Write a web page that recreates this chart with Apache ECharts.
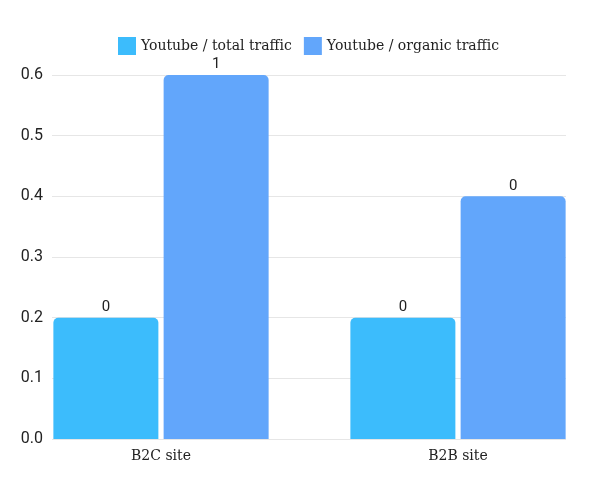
<!DOCTYPE html>
<html>
<head>
<meta charset="utf-8">
<script src="https://cdn.jsdelivr.net/npm/echarts@6/dist/echarts.min.js"></script>
<style>html,body{margin:0;padding:0;background:#fff;}#c{width:600px;height:482px;}</style>
</head>
<body>
<div id="c"></div>
<script>
var categories = ['B2C site', 'B2B site'];
var totalTraffic = [0.2, 0.2];
var organicTraffic = [0.6, 0.4];
var seriesNames = ['Youtube / total traffic', 'Youtube / organic traffic'];
var yTicks = [0, 0.1, 0.2, 0.3, 0.4, 0.5, 0.6];

var serif = '"DejaVu Serif", serif';
var sans = 'Roboto, "Noto Sans", sans-serif';
var chart = echarts.init(document.getElementById('c'));
var labelCfg = {
  show: true, position: 'top', distance: 3, color: '#222', fontSize: 15, fontFamily: sans,
  formatter: function (p) { return String(Math.round(p.value)); }
};
chart.setOption({
  animation: false,
  legend: {
    top: 32, left: 113, itemWidth: 18, itemHeight: 18, itemGap: 12,
    icon: 'rect',
    textStyle: { fontSize: 14, fontFamily: serif, color: '#222' },
    data: seriesNames
  },
  grid: [
    { left: 161, right: 142, top: 75, bottom: 43 },
    { left: 52, right: 34, top: 75, bottom: 43 }
  ],
  xAxis: [
    { type: 'category', gridIndex: 0, data: categories, boundaryGap: false,
      axisLine: { show: false }, axisTick: { show: false },
      axisLabel: { fontSize: 14, fontFamily: serif, color: '#222', margin: 10 } },
    { type: 'category', gridIndex: 1, data: categories, show: false }
  ],
  yAxis: [
    { type: 'value', gridIndex: 0, min: 0, max: 0.6, interval: 0.1, show: false, splitLine: { show: false } },
    { type: 'value', gridIndex: 1, min: 0, max: 0.6, interval: 0.1,
      axisLine: { show: false }, axisTick: { show: false },
      splitLine: { lineStyle: { color: '#e6e6e6', width: 1 } },
      axisLabel: { fontSize: 16, fontFamily: sans, color: '#222', margin: 9,
        formatter: function (v) { return yTicks.indexOf(Math.round(v * 10) / 10) >= 0 ? v.toFixed(1) : ''; } } }
  ],
  series: [
    { name: seriesNames[0], type: 'bar', xAxisIndex: 0, yAxisIndex: 0, data: totalTraffic,
      barWidth: 105, barGap: '5%', z: 3, clip: false,
      itemStyle: { color: '#3cbcfc', borderRadius: [5, 5, 0, 0] }, label: labelCfg },
    { name: seriesNames[1], type: 'bar', xAxisIndex: 0, yAxisIndex: 0, data: organicTraffic,
      barWidth: 105, z: 3, clip: false,
      itemStyle: { color: '#62a6fb', borderRadius: [5, 5, 0, 0] }, label: labelCfg }
  ]
});
</script>
</body>
</html>
